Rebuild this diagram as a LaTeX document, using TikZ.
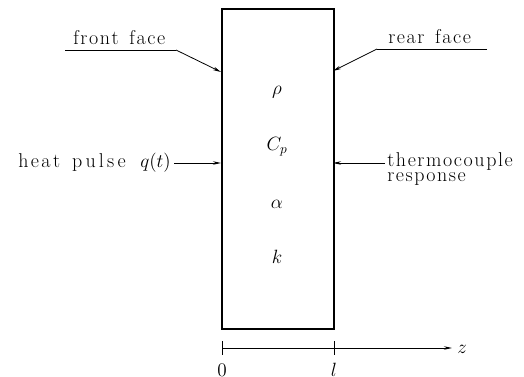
\documentclass[tikz,border=0pt]{standalone}
\usepackage{fontspec}
\usetikzlibrary{arrows.meta}
\ExplSyntaxOn
\NewDocumentCommand\ls{O{1.2pt}m}{
  \seq_set_split:Nnn \l_tmpa_seq {~} {#2}
  \seq_map_indexed_inline:Nn \l_tmpa_seq
    {
      \int_compare:nT {##1>1} {\hspace{8pt}}
      \tl_map_inline:nn {##2} {####1\kern#1}
      \unkern
    }
}
\ExplSyntaxOff
\begin{document}
\begin{tikzpicture}[x=0.75pt,y=-0.75pt,
  lbl/.style={inner sep=0pt,font=\fontsize{15}{17}\selectfont},
  sym/.style={inner sep=0pt,font=\fontsize{14}{16}\selectfont},
  thin/.style={line width=0.6pt},
  tip/.style={-{Stealth[length=6pt,width=2.6pt]}},
  slabstyle/.style={draw,line width=1.4pt,inner sep=0pt,minimum width=84pt,minimum height=240pt}]
\useasboundingbox (0,0) rectangle (524,377);
% slab
\node[slabstyle,anchor=north west] (slab) at (221,8) {};
% symbols
\node[sym] (rho) at (277,92) {$\rho$};
\node[sym] (cp) at (277,147) {$C_p$};
\node[sym] (alpha) at (277,204) {$\alpha$};
\node[sym] (kk) at (277,257) {$k$};
% front face
\node[lbl,anchor=base west] (ff) at (73,45) {\ls{front face}};
\coordinate (ffa) at (65,50);
\coordinate (ffb) at (176,50);
\coordinate (ffp) at (221,72);
\draw[thin] (ffa) -- (ffb);
\draw[thin,tip] (ffb) -- (ffp);
% rear face
\node[lbl,anchor=base west] (rf) at (388,44) {\ls{rear face}};
\coordinate (rfa) at (487,49);
\coordinate (rfb) at (377,49);
\coordinate (rfp) at (333,71);
\draw[thin] (rfa) -- (rfb);
\draw[thin,tip] (rfb) -- (rfp);
% heat pulse
\node[lbl,anchor=base east] (hp) at (171,168) {\ls[1.8pt]{heat}\kern9pt\ls[2.4pt]{pulse}\kern11pt$q(t)$};
\coordinate (hps) at (174,163);
\coordinate (hpp) at (221,163);
\draw[thin,tip] (hps) -- (hpp);
% thermocouple
\node[lbl,anchor=base west] (tc) at (387,167) {\ls{thermocouple}};
\node[lbl,anchor=base west] (tr) at (387,182) {\ls{response}};
\coordinate (tcs) at (385,163);
\coordinate (tcp) at (333,163);
\draw[thin,tip] (tcs) -- (tcp);
% axis
\coordinate (a0) at (222,348);
\coordinate (al) at (334,348);
\coordinate (ae) at (452,348);
\draw[thin,tip] (a0) -- (ae);
\draw[thin] (222,341) -- (222,355);
\draw[thin] (334,341) -- (334,355);
\node[sym,anchor=base] (z0) at (222,376) {$0$};
\node[sym,anchor=base] (zl) at (334,376) {$l$};
\node[sym,anchor=west] (zz) at (457,349) {$z$};
\end{tikzpicture}
\end{document}
